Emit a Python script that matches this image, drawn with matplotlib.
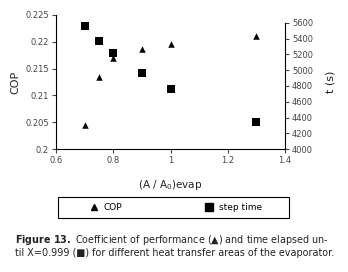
import matplotlib
matplotlib.use('Agg')
import matplotlib.pyplot as plt
from matplotlib.lines import Line2D
from matplotlib.patches import Rectangle

# data
area_ratio = [0.7, 0.75, 0.8, 0.9, 1.0, 1.3]
cop = [0.2044, 0.2135, 0.2170, 0.2186, 0.2196, 0.2210]
step_time = [5558, 5376, 5223, 4965, 4762, 4339]

x_ticks = [0.6, 0.8, 1.0, 1.2, 1.4]
x_tick_labels = ['0.6', '0.8', '1', '1.2', '1.4']
cop_ticks = [0.2, 0.205, 0.21, 0.215, 0.22, 0.225]
cop_tick_labels = ['0.2', '0.205', '0.21', '0.215', '0.22', '0.225']
time_ticks = [4000, 4200, 4400, 4600, 4800, 5000, 5200, 5400, 5600]

plt.rcParams['font.family'] = ['DejaVu Sans']
grey = '#444444'

fig = plt.figure(figsize=(3.48, 2.72), dpi=100)
ax = fig.add_axes([0.161, 0.452, 0.658, 0.493])
ax2 = ax.twinx()

ax.scatter(area_ratio, cop, marker='^', s=22, color='black', linewidths=0, zorder=3)
ax2.scatter(area_ratio, step_time, marker='s', s=30, color='black', linewidths=0, zorder=3)

ax.set_xlim(0.6, 1.4)
ax.set_ylim(0.2, 0.225)
ax2.set_ylim(4000, 5700)

ax.set_xticks(x_ticks)
ax.set_xticklabels(x_tick_labels)
ax.set_yticks(cop_ticks)
ax.set_yticklabels(cop_tick_labels)
ax2.set_yticks(time_ticks)

for a in (ax, ax2):
    for s in a.spines.values():
        s.set_visible(False)
    a.tick_params(labelsize=6, colors=grey, length=3, width=0.8, direction='out', pad=2)
ax.spines['left'].set_visible(True)
ax.spines['bottom'].set_visible(True)
ax2.spines['right'].set_visible(True)
ax2.spines['right'].set_bounds(4000, 5600)
for s in (ax.spines['left'], ax.spines['bottom'], ax2.spines['right']):
    s.set_linewidth(0.8)
    s.set_color('black')

ax.set_xlabel('(A / A$_0$)evap', fontsize=7.5, labelpad=9, color='#222222')
ax.set_ylabel('COP', fontsize=8, labelpad=4, color='#222222')
ax2.set_ylabel('t (s)', fontsize=8, labelpad=9, color='#222222')

# legend box drawn by hand, entries placed inside
fig.patches.append(Rectangle((0.167, 0.199), 0.664, 0.077, transform=fig.transFigure,
                             fill=False, edgecolor='black', linewidth=0.8))
handles = [
    Line2D([], [], marker='^', color='black', linestyle='none', markersize=5),
    Line2D([], [], marker='s', color='black', linestyle='none', markersize=5.5),
]
leg = fig.legend(handles, ['COP', 'step time'], ncol=2, loc='center',
                 bbox_to_anchor=(0.503, 0.2375), fontsize=6.5, frameon=False,
                 handletextpad=0.5, columnspacing=9.0, handlelength=1.2)

fig.text(0.043, 0.105, r'$\bf{Figure\ 13.}$ Coefficient of performance (▲) and time elapsed un-',
         fontsize=6.9, color='#222222')
fig.text(0.043, 0.058, 'til X=0.999 (■) for different heat transfer areas of the evaporator.',
         fontsize=6.9, color='#222222')

fig.savefig('out.png', dpi=100)
